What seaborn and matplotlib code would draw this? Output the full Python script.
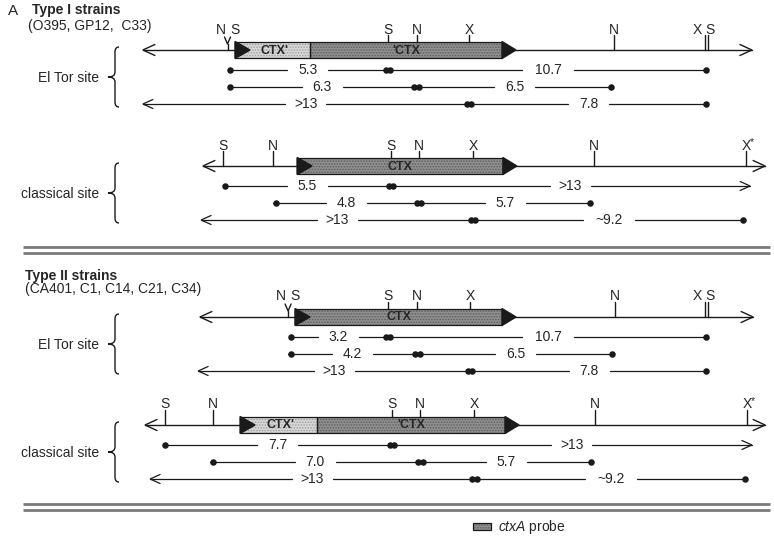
import numpy as np
import pandas as pd
import matplotlib
matplotlib.use("Agg")
import matplotlib.pyplot as plt
import seaborn as sns
from matplotlib.patches import Rectangle, Polygon, PathPatch
from matplotlib.path import Path

sns.set_theme(style="white")
plt.rcParams['font.family'] = ['Liberation Sans', 'DejaVu Sans']
plt.rcParams['mathtext.fontset'] = 'custom'
plt.rcParams['mathtext.rm'] = 'Liberation Sans'
plt.rcParams['mathtext.it'] = 'Liberation Sans:italic'
plt.rcParams['hatch.linewidth'] = 0.7

# restriction maps, positions in kb (0 = S site inside 'CTX)
# fragments: (start, end, size label, arrow side)

# Type I strains, El Tor site
t1e_span = [-8.17, 12.13]
t1e_light = [-5.1, -2.6]
t1e_dark = [-2.6, 3.8]
t1e_labels = ["CTX'", "'CTX"]
t1e_sites = ["N/S", "S", "N", "X", "N", "X", "S"]
t1e_pos = [-5.35, 0.0, 0.95, 2.7, 7.53, 10.57, 10.67]
t1e_rows = [
    [(-5.35, 0.0, "5.3", ""), (0.0, 10.67, "10.7", "")],
    [(-5.35, 0.95, "6.3", ""), (0.95, 7.5, "6.5", "")],
    [(-8.17, 2.7, ">13", "L"), (2.7, 10.67, "7.8", "")],
]

# Type I strains, classical site
t1c_span = [-6.17, 12.57]
t1c_light = None
t1c_dark = [-3.03, 3.83]
t1c_labels = [None, "CTX"]
t1c_sites = ["S", "N", "S", "N", "X", "N", "X*"]
t1c_pos = [-5.5, -3.83, 0.1, 1.03, 2.83, 6.87, 11.93]
t1c_rows = [
    [(-5.5, 0.1, "5.5", ""), (0.1, 12.07, ">13", "R")],
    [(-3.83, 1.03, "4.8", ""), (1.03, 6.8, "5.7", "")],
    [(-6.23, 2.83, ">13", "L"), (2.83, 11.9, "~9.2", "")],
]

# Type II strains, El Tor site
t2e_span = [-6.27, 12.17]
t2e_light = None
t2e_dark = [-3.1, 3.8]
t2e_labels = [None, "CTX"]
t2e_sites = ["N/S", "S", "N", "X", "N", "X", "S"]
t2e_pos = [-3.33, 0.0, 0.97, 2.73, 7.57, 10.57, 10.67]
t2e_rows = [
    [(-3.3, 0.0, "3.2", ""), (0.0, 10.67, "10.7", "")],
    [(-3.33, 0.97, "4.2", ""), (0.97, 7.53, "6.5", "")],
    [(-6.33, 2.73, ">13", "L"), (2.73, 10.67, "7.8", "")],
]

# Type II strains, classical site
t2c_span = [-8.1, 12.57]
t2c_light = [-4.93, -2.37]
t2c_dark = [-2.37, 3.9]
t2c_labels = ["CTX'", "'CTX"]
t2c_sites = ["S", "N", "S", "N", "X", "N", "X*"]
t2c_pos = [-7.43, -5.83, 0.13, 1.07, 2.87, 6.9, 11.97]
t2c_rows = [
    [(-7.5, 0.13, "7.7", ""), (0.13, 12.13, ">13", "R")],
    [(-5.93, 1.07, "7.0", ""), (1.07, 6.83, "5.7", "")],
    [(-7.93, 2.87, ">13", "L"), (2.87, 11.97, "~9.2", "")],
]

X0 = 388
PX_PER_KB = 30.0
K = 1 / PX_PER_KB
ROW_DY = [20, 37, 54]
FS = 10


def px(x):
    return (x - X0) / PX_PER_KB


fig = plt.figure(figsize=(7.74, 5.37), dpi=100)
ax = fig.add_axes([0, 0, 1, 1])
ax.set_xlim(px(0), px(774))
ax.set_ylim(537, 0)
ax.axis('off')

dots_x, dots_y = [], []


def chevron(x, y, d, L, H, lw=1.0):
    ax.plot([x - d * L * K, x, x - d * L * K], [y - H, y, y + H],
            color='k', lw=lw, solid_joinstyle='miter', zorder=3)


def stipple_box(x0, x1, y, face, dots, h=8):
    ax.add_patch(Rectangle((x0, y - h), x1 - x0, 2 * h, facecolor=face,
                           edgecolor=dots, hatch='......', lw=0, zorder=2))
    ax.add_patch(Rectangle((x0, y - h), x1 - x0, 2 * h, fill=False,
                           edgecolor='k', lw=0.9, zorder=3))


def brace(xs, y0, y1):
    xsp, xt, xe = px(xs), px(xs - 7), px(xs + 4)
    ym = (y0 + y1) / 2
    verts = [(xe, y0), (xsp, y0), (xsp, y0 + 5), (xsp, ym - 5),
             (xsp, ym), (xt, ym), (xsp, ym), (xsp, ym + 5),
             (xsp, y1 - 5), (xsp, y1), (xe, y1)]
    codes = [Path.MOVETO, Path.CURVE3, Path.CURVE3, Path.LINETO,
             Path.CURVE3, Path.CURVE3, Path.CURVE3, Path.CURVE3,
             Path.LINETO, Path.CURVE3, Path.CURVE3]
    ax.add_patch(PathPatch(Path(verts, codes), fill=False, lw=1.0,
                           edgecolor='k'))


def draw_map(y, span, light, dark, labels, sites, pos, rows, site_name):
    # backbone
    ax.plot(span, [y, y], color='k', lw=1.0, zorder=1)
    chevron(span[0], y, -1, 12, 5.5)
    chevron(span[1], y, 1, 12, 5.5)
    # CTX boxes
    if light is not None:
        stipple_box(light[0], light[1], y, '#d6d6d6', '#a0a0a0')
        ax.text((light[0] + light[1]) / 2 + 2 * K, y + 0.5, labels[0],
                ha='center', va='center', fontsize=9, fontweight='bold',
                zorder=5)
    stipple_box(dark[0], dark[1], y, '#8e8e8e', '#5e5e5e')
    ax.text((dark[0] + dark[1]) / 2, y + 0.5, labels[1], ha='center',
            va='center', fontsize=9, fontweight='bold', zorder=5)
    x_start = light[0] if light is not None else dark[0]
    ax.add_patch(Polygon([(x_start, y - 8.5), (x_start, y + 8.5),
                          (x_start + 15 * K, y)], color='k', zorder=4))
    ax.add_patch(Polygon([(dark[1], y - 8.5), (dark[1], y + 8.5),
                          (dark[1] + 14 * K, y)], color='k', zorder=4))
    # restriction sites
    for i, (s, p) in enumerate(zip(sites, pos)):
        in_box = x_start <= p <= dark[1]
        bottom = y - 8 if in_box else y
        if s == "N/S":
            ax.plot([p, p], [y, y - 6], color='k', lw=1.0, zorder=3)
            ax.plot([p - 3 * K, p, p + 3 * K], [y - 13, y - 6, y - 13],
                    color='k', lw=1.0, zorder=3)
            ax.text(p - 7 * K, y - 16.5, "N", ha='center', va='baseline',
                    fontsize=FS)
            ax.text(p + 7 * K, y - 16.5, "S", ha='center', va='baseline',
                    fontsize=FS)
            continue
        ax.plot([p, p], [y - 15, bottom], color='k', lw=1.0, zorder=3)
        dx = 0
        if i + 1 < len(pos) and pos[i + 1] - p < 0.2:
            dx = -8 * K
        elif i > 0 and p - pos[i - 1] < 0.2:
            dx = 2 * K
        ax.text(p + dx, y - 16.5, s[0], ha='center', va='baseline',
                fontsize=FS)
        if s.endswith('*'):
            ax.text(p + 6 * K, y - 21, "*", ha='center', va='baseline',
                    fontsize=7.5)
    # fragments
    for r, row in enumerate(rows):
        ry = y + ROW_DY[r]
        for a, b, lab, arrow in row:
            mid = (a + b) / 2
            half = (4 + 5.5 * len(lab)) * K
            ax.plot([a, mid - half], [ry, ry], color='k', lw=0.9)
            ax.plot([mid + half, b], [ry, ry], color='k', lw=0.9)
            ax.text(mid, ry, lab, ha='center', va='center', fontsize=FS)
            if arrow == "L":
                chevron(a, ry, -1, 10, 4.5, 0.9)
            else:
                dots_x.append(a + 0.08)
                dots_y.append(ry)
            if arrow == "R":
                chevron(b, ry, 1, 10, 4.5, 0.9)
            else:
                dots_x.append(b - 0.08)
                dots_y.append(ry)
    # site brace and name
    brace(115, y - 3, y + ROW_DY[-1] + 3)
    ax.text(px(99), y + (ROW_DY[-1]) / 2 + 1, site_name, ha='right',
            va='center', fontsize=FS)


draw_map(50, t1e_span, t1e_light, t1e_dark, t1e_labels, t1e_sites, t1e_pos,
         t1e_rows, "El Tor site")
draw_map(166, t1c_span, t1c_light, t1c_dark, t1c_labels, t1c_sites, t1c_pos,
         t1c_rows, "classical site")
draw_map(317, t2e_span, t2e_light, t2e_dark, t2e_labels, t2e_sites, t2e_pos,
         t2e_rows, "El Tor site")
draw_map(425, t2c_span, t2c_light, t2c_dark, t2c_labels, t2c_sites, t2c_pos,
         t2c_rows, "classical site")

dots = pd.DataFrame({"x": dots_x, "y": dots_y})
sns.scatterplot(data=dots, x="x", y="y", ax=ax, color='k', s=22,
                linewidth=0, zorder=6, legend=False)
ax.set_xlim(px(0), px(774))
ax.set_ylim(537, 0)
ax.axis('off')

# separators
for yy in [247, 253, 504, 510]:
    ax.plot([px(23), px(770)], [yy, yy], color='#7a7a7a', lw=2.0,
            solid_capstyle='butt')

# headers
ax.text(px(8), 11, "A", ha='left', va='center', fontsize=11)
ax.text(px(32), 10, "Type I strains", ha='left', va='center', fontsize=FS,
        fontweight='bold')
ax.text(px(28), 26, "(O395, GP12,  C33)", ha='left', va='center',
        fontsize=FS)
ax.text(px(25), 276, "Type II strains", ha='left', va='center', fontsize=FS,
        fontweight='bold')
ax.text(px(25), 289, "(CA401, C1, C14, C21, C34)", ha='left', va='center',
        fontsize=FS)

# legend
stipple_box(px(473), px(491), 526.5, '#8e8e8e', '#5e5e5e', h=3.5)
ax.text(px(498), 527, r"$\it{ctxA}$ probe", ha='left', va='center',
        fontsize=FS)

fig.savefig("out.png", dpi=100, facecolor='white')
